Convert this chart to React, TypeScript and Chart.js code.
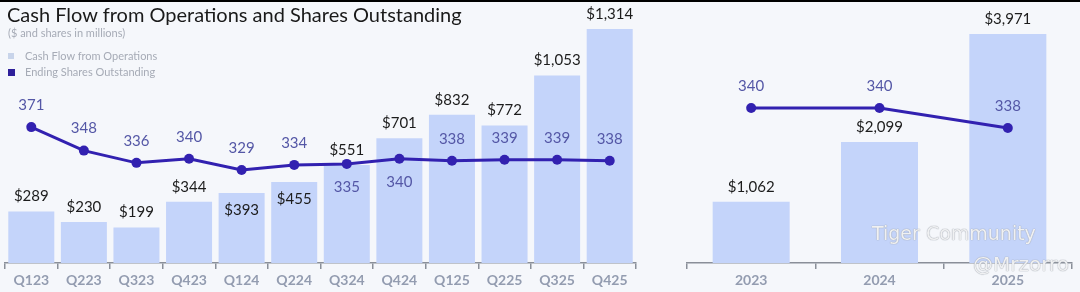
import React, { useEffect, useRef } from "react";
import { Chart, registerables } from "chart.js";

Chart.register(...registerables);

// ---- Data ----
const quarters = ["Q123", "Q223", "Q323", "Q423", "Q124", "Q224", "Q324", "Q424", "Q125", "Q225", "Q325", "Q425"];
const quarterCashFlow = [289, 230, 199, 344, 393, 455, 551, 701, 832, 772, 1053, 1314];
const quarterShares = [371, 348, 336, 340, 329, 334, 335, 340, 338, 339, 339, 338];
const quarterCashLabelInside = [false, false, false, false, true, true, false, false, false, false, false, false];
const quarterShareLabelBelow = [false, false, false, false, false, false, true, true, false, false, false, false];

const years = ["2023", "2024", "2025"];
const yearCashFlow = [1062, 2099, 3971];
const yearShares = [340, 340, 338];
const yearCashLabelInside = [false, false, false];
const yearShareLabelBelow = [false, false, false];

// ---- Style ----
const BG = "#f5f7fb";
const BAR = "#c4d4fa";
const LINE = "#3221b0";
const SHARE_TXT = "#5457a6";
const CASH_TXT = "#1c1c1c";
const AXIS = "#8a8f99";
const TICK_TXT = "#939cb0";
const FONT = "Lato, 'Open Sans', sans-serif";

const fmtMoney = (v: number) => "$" + v.toLocaleString("en-US");

function labelsPlugin(cashInside: boolean[], shareBelow: boolean[]) {
  return {
    id: "valueLabels",
    afterDatasetsDraw(chart: any) {
      const ctx = chart.ctx;
      ctx.save();
      ctx.textAlign = "center";
      ctx.textBaseline = "middle";
      const barMeta = chart.getDatasetMeta(0);
      const lineMeta = chart.getDatasetMeta(1);
      const barData = chart.data.datasets[0].data;
      const lineData = chart.data.datasets[1].data;
      ctx.font = `15px ${FONT}`;
      ctx.fillStyle = CASH_TXT;
      barMeta.data.forEach((el: any, i: number) => {
        const y = cashInside[i] ? el.y + 17 : el.y - 15;
        ctx.fillText(fmtMoney(barData[i]), el.x, y);
      });
      ctx.font = `15px ${FONT}`;
      ctx.fillStyle = SHARE_TXT;
      lineMeta.data.forEach((el: any, i: number) => {
        const y = shareBelow[i] ? el.y + 23 : el.y - 22;
        ctx.fillText(String(lineData[i]), el.x, y);
      });
      ctx.restore();
    },
  };
}

function makeConfig(
  labels: string[],
  cash: number[],
  shares: number[],
  opts: {
    barPct: number;
    yMax: number;
    y2Min: number;
    y2Max: number;
    padding: { left: number; right: number; top: number; bottom: number };
    cashInside: boolean[];
    shareBelow: boolean[];
  }
): any {
  return {
    type: "bar",
    data: {
      labels,
      datasets: [
        {
          type: "bar",
          label: "Cash Flow from Operations",
          data: cash,
          backgroundColor: BAR,
          barPercentage: opts.barPct,
          categoryPercentage: 1,
          yAxisID: "y",
          order: 1,
        },
        {
          type: "line",
          label: "Ending Shares Outstanding",
          data: shares,
          borderColor: LINE,
          backgroundColor: LINE,
          borderWidth: 3,
          pointRadius: 5,
          pointBackgroundColor: LINE,
          pointBorderWidth: 0,
          tension: 0,
          yAxisID: "y2",
          order: 0,
        },
      ],
    },
    options: {
      responsive: false,
      animation: false,
      devicePixelRatio: 1,
      layout: { padding: opts.padding },
      plugins: { legend: { display: false }, tooltip: { enabled: false }, title: { display: false } },
      scales: {
        x: {
          offset: true,
          grid: {
            offset: true,
            drawOnChartArea: false,
            drawTicks: true,
            tickLength: 6,
            color: AXIS,
            lineWidth: 1.5,
          },
          border: { display: true, color: AXIS, width: 1.5 },
          ticks: {
            color: TICK_TXT,
            font: { family: FONT, size: 14, weight: "bold" },
            padding: 3,
            maxRotation: 0,
            autoSkip: false,
          },
          afterFit(scale: any) {
            scale.height = 29;
          },
        },
        y: { display: false, min: 0, max: opts.yMax },
        y2: { display: false, min: opts.y2Min, max: opts.y2Max },
      },
    },
    plugins: [labelsPlugin(opts.cashInside, opts.shareBelow)],
  };
}

function ChartCanvas({ config, width, height, left }: { config: any; width: number; height: number; left: number }) {
  const ref = useRef<HTMLCanvasElement>(null);
  useEffect(() => {
    if (!ref.current) return;
    const chart = new Chart(ref.current, config);
    return () => chart.destroy();
  }, [config]);
  return (
    <canvas
      ref={ref}
      width={width}
      height={height}
      style={{ position: "absolute", left, top: 0, width, height }}
    />
  );
}

const leftConfig = makeConfig(quarters, quarterCashFlow, quarterShares, {
  barPct: 0.875,
  yMax: 1314,
  y2Min: 238,
  y2Max: 467,
  padding: { left: 4, right: 24, top: 29, bottom: 0 },
  cashInside: quarterCashLabelInside,
  shareBelow: quarterShareLabelBelow,
});

const rightConfig = makeConfig(years, yearCashFlow, yearShares, {
  barPct: 0.6,
  yMax: 3971,
  y2Min: 324.5,
  y2Max: 347.4,
  padding: { left: 27, right: 8, top: 34, bottom: 0 },
  cashInside: yearCashLabelInside,
  shareBelow: yearShareLabelBelow,
});

const wmStyle: React.CSSProperties = {
  position: "absolute",
  color: "rgba(255,255,255,0.85)",
  textShadow: "0 0 1px #9aa0aa, 0 0 1px #9aa0aa",
  whiteSpace: "nowrap",
  fontFamily: "'DejaVu Sans', sans-serif",
};

export default function App() {
  return (
    <div
      style={{
        position: "fixed",
        left: 0,
        top: 0,
        width: 1080,
        height: 292,
        background: BG,
        overflow: "hidden",
        fontFamily: FONT,
      }}
    >
      <div style={{ position: "absolute", left: 0, top: 0, width: 1080, height: 2, background: "#000" }} />
      <ChartCanvas config={leftConfig} width={660} height={292} left={0} />
      <ChartCanvas config={rightConfig} width={420} height={292} left={660} />
      <div
        style={{
          position: "absolute",
          left: 7,
          top: 2,
          fontSize: 20,
          color: "#1a1a1a",
          whiteSpace: "nowrap",
          lineHeight: "24px",
        }}
      >
        Cash Flow from Operations and Shares Outstanding
      </div>
      <div style={{ position: "absolute", left: 8, top: 26, fontSize: 11, color: "#a6abb6", lineHeight: "14px" }}>
        ($ and shares in millions)
      </div>
      <div style={{ position: "absolute", left: 8, top: 49, fontSize: 11, color: "#a6abb6", lineHeight: "14px", display: "flex", alignItems: "center" }}>
        <span style={{ display: "inline-block", width: 6, height: 6, background: "#c8d4ea", marginRight: 11 }} />
        Cash Flow from Operations
      </div>
      <div style={{ position: "absolute", left: 8, top: 65, fontSize: 11, color: "#a6abb6", lineHeight: "14px", display: "flex", alignItems: "center" }}>
        <span style={{ display: "inline-block", width: 7, height: 7, background: "#2e1f9a", marginRight: 10 }} />
        Ending Shares Outstanding
      </div>
      <div style={{ ...wmStyle, left: 872, top: 222, fontSize: 19 }}>Tiger Community</div>
      <div style={{ ...wmStyle, left: 973, top: 252, fontSize: 20 }}>@Mrzorro</div>
    </div>
  );
}
